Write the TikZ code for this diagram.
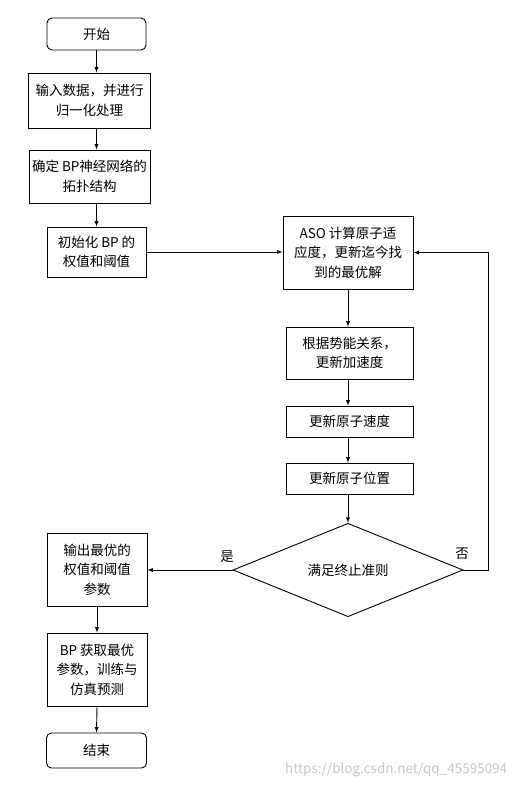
\documentclass[tikz,border=0pt]{standalone}
\usepackage{fontspec}
\setmainfont{Noto Sans CJK SC}
\usetikzlibrary{arrows,shapes,shapes.geometric,positioning}

\begin{document}
\begin{tikzpicture}[x=1pt,y=-1pt,>=latex,line width=0.9pt]
        \tikzstyle{rectblock}=[rectangle, draw, inner sep=0pt, align=center, font=\fontsize{13.5}{19.5}\selectfont]
        \tikzstyle{termblock}=[rectblock, rounded corners=5pt]
        \tikzstyle{decblock}=[diamond, draw, inner sep=0pt, minimum width=230pt, minimum height=81pt, font=\fontsize{13.5}{19.5}\selectfont]
        \useasboundingbox (0,0) rectangle (519,788);
        % left column
        \node[termblock, minimum width=99pt, minimum height=32pt] (start) at (96.5,34) {开始};
        \node[rectblock, minimum width=122pt, minimum height=55pt] (input) at (89.5,100.5) {输入数据，并进行\\归一化处理};
        \node[rectblock, minimum width=121pt, minimum height=53pt] (net) at (89.5,176.5) {确定 BP神经网络的\\拓扑结构};
        \node[rectblock, minimum width=99pt, minimum height=50pt] (init) at (96.5,252) {初始化 BP 的\\权值和阈值};
        % right column
        \node[rectblock, minimum width=130pt, minimum height=73pt] (aso) at (348,252.5) {ASO 计算原子适\\应度，更新迄今找\\到的最优解};
        \node[rectblock, minimum width=127pt, minimum height=52pt] (acc) at (349.5,353) {根据势能关系，\\更新加速度};
        \node[rectblock, minimum width=127pt, minimum height=31pt] (vel) at (349.5,421.5) {更新原子速度};
        \node[rectblock, minimum width=127pt, minimum height=31pt] (pos) at (349.5,478.5) {更新原子位置};
        \node[decblock] (stop) at (348,570) {满足终止准则};
        % output
        \node[rectblock, minimum width=100pt, minimum height=73pt] (best) at (97,569.5) {输出最优的\\权值和阈值\\参数};
        \node[rectblock, minimum width=100pt, minimum height=73pt] (train) at (97,669.5) {BP 获取最优\\参数，训练与\\仿真预测};
        \node[termblock, minimum width=100pt, minimum height=35pt] (end) at (96.5,750.5) {结束};
        \node[font=\fontsize{13.5}{16}\selectfont] (yes) at (227,557) {是};
        \node[font=\fontsize{13.5}{16}\selectfont] (no) at (462,554) {否};
        \node[anchor=east, text=gray!45, font=\fontsize{13.5}{16}\selectfont] (mark) at (511,770) {https://blog.csdn.net/qq\_45595094};
        % connectors
        \draw [->] (start.south) -- (start.south |- input.north);
        \draw [->] (start.south |- input.south) -- (start.south |- net.north);
        \draw [->] (start.south |- net.south) -- (init.north);
        \draw [->] (init.east) -- (init.east -| aso.west);
        \draw [->] (aso.south) -- (aso.south |- acc.north);
        \draw [->] (aso.south |- acc.south) -- (aso.south |- vel.north);
        \draw [->] (aso.south |- vel.south) -- (aso.south |- pos.north);
        \draw [->] (aso.south |- pos.south) -- (stop.north);
        \draw [->] (stop.west) -- (stop.west -| best.east);
        \draw [->] (stop.east) -- ++(25,0) |- (aso.east);
        \draw [->] (best.south) -- (train.north);
        \draw [->] (train.south) -- (end.north);
      \end{tikzpicture}
\end{document}
